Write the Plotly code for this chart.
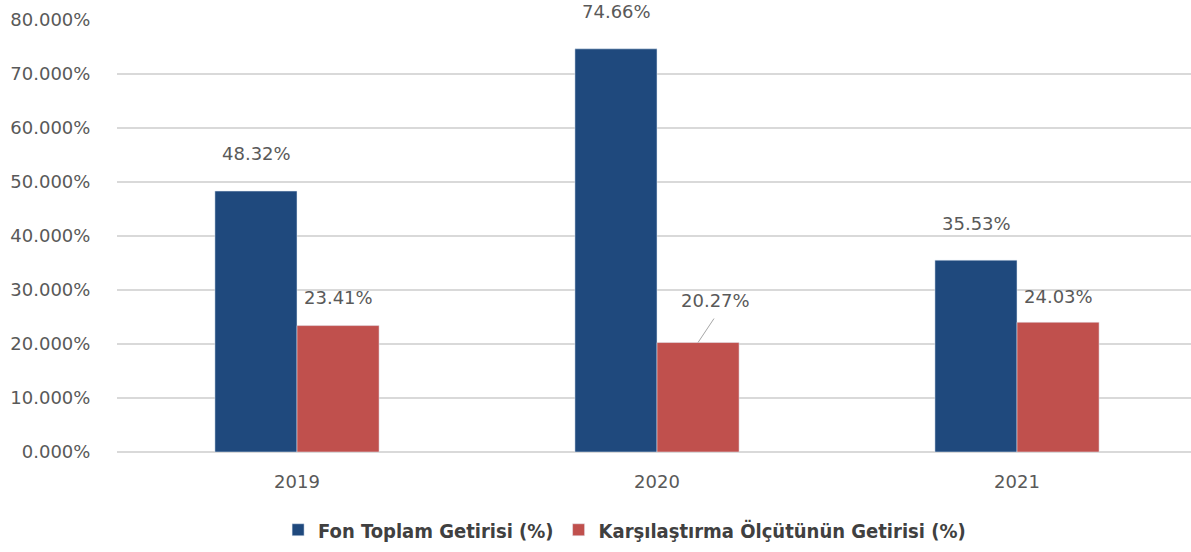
import plotly.graph_objects as go

years = ["2019", "2020", "2021"]
fon = [48.32, 74.66, 35.53]
olcut = [23.41, 20.27, 24.03]
series_names = ["Fon Toplam Getirisi (%)", "Karşılaştırma Ölçütünün Getirisi (%)"]
y_ticks = [0, 10, 20, 30, 40, 50, 60, 70, 80]
y_tick_labels = [f"{v:.3f}%" for v in y_ticks]

# label styling offsets (pixels)
fon_yshift = [38, 37, 37]
olcut_yshift = [28, 42, 26]
olcut_xextra = [0, 17, 0]

BLUE = "#1F497D"
RED = "#C0504D"
TXT = "#595959"
FONT = "DejaVu Sans"

fig = go.Figure()
fig.add_trace(go.Bar(x=years, y=fon, name=series_names[0], marker_color=BLUE))
fig.add_trace(go.Bar(x=years, y=olcut, name=series_names[1], marker_color=RED))

ann = []
for i, y in enumerate(years):
    ann.append(dict(x=i, y=fon[i], xref="x", yref="y", text=f"{fon[i]:.2f}%",
                    showarrow=False, xshift=-41, yshift=fon_yshift[i], yanchor="middle",
                    font=dict(family=FONT, size=18, color=TXT)))
    ann.append(dict(x=i, y=olcut[i], xref="x", yref="y", text=f"{olcut[i]:.2f}%",
                    showarrow=False, xshift=41 + olcut_xextra[i], yshift=olcut_yshift[i],
                    yanchor="middle", font=dict(family=FONT, size=18, color=TXT)))

fig.update_layout(
    width=1191, height=552,
    margin=dict(l=117, r=0, t=20, b=100),
    paper_bgcolor="white", plot_bgcolor="white",
    barmode="group", bargap=0.544, bargroupgap=0,
    showlegend=True,
    legend=dict(orientation="h", x=0.150, xanchor="left", y=-0.18, yanchor="middle",
                font=dict(family="DejaVu Sans Condensed", size=20,
                          color="#404040", weight="bold"),
                traceorder="normal"),
    annotations=ann,
)
# leader line for 2020 benchmark label (pixel offsets from the bar top)
fig.add_shape(type="line", xref="x", yref="y", xsizemode="pixel", ysizemode="pixel",
              xanchor=1, yanchor=olcut[1], x0=41, x1=57, y0=0, y1=24,
              line=dict(color="#a6a6a6", width=1))

fig.update_xaxes(type="category", range=[-0.5, 2.4833], showgrid=False, showline=False,
                 ticks="outside", ticklen=13, tickcolor="rgba(0,0,0,0)",
                 tickfont=dict(family=FONT, size=18, color=TXT), zeroline=False)
fig.update_yaxes(range=[0, 80], tickvals=y_ticks, ticktext=y_tick_labels,
                 showgrid=True, gridcolor="#d9d9d9", gridwidth=2, zeroline=True,
                 zerolinecolor="#d9d9d9", zerolinewidth=2, showline=False,
                 ticks="outside", ticklen=22, tickcolor="rgba(0,0,0,0)",
                 tickfont=dict(family=FONT, size=18, color=TXT))

fig.write_html("out.html", config={"displayModeBar": False},
               post_script="document.body.style.margin='0';")
